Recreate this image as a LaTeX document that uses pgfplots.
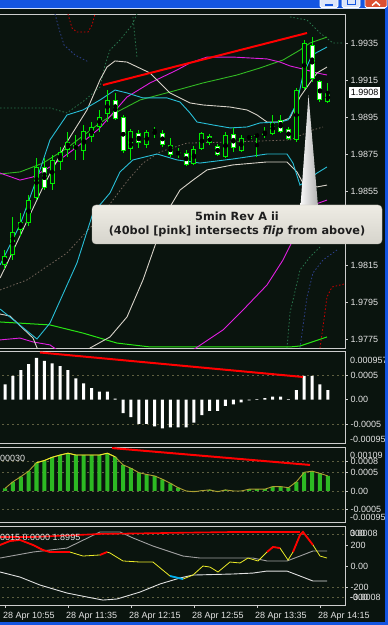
\documentclass[border=0pt]{standalone}
\usepackage{pgfplots}
\pgfplotsset{compat=1.18}
\usepackage{pgfplotstable}
\usepackage{fontspec}
\setmainfont{Liberation Sans}
\newfontfamily\callfont{DejaVu Sans}

\definecolor{bg}{RGB}{10,20,14}
\definecolor{framec}{RGB}{205,205,205}
\definecolor{labelc}{RGB}{228,228,228}
\definecolor{cgreen}{RGB}{0,235,0}
\definecolor{bbcyan}{RGB}{40,190,215}
\definecolor{bbmag}{RGB}{225,30,225}
\definecolor{bbwhite}{RGB}{215,210,200}
\definecolor{magreen}{RGB}{50,185,35}
\definecolor{limec}{RGB}{40,230,20}
\definecolor{gridc}{RGB}{95,95,65}
\definecolor{osma}{RGB}{45,185,35}
\definecolor{olivey}{RGB}{175,160,50}
\definecolor{brighty}{RGB}{235,235,40}
\definecolor{dotgreen}{RGB}{40,115,75}
\definecolor{dotblue}{RGB}{45,65,140}
\definecolor{dotgrey}{RGB}{115,100,90}
\definecolor{dotred}{RGB}{210,0,0}
\definecolor{xpblue}{RGB}{20,85,225}
\definecolor{ccigrey}{RGB}{160,160,160}
\definecolor{cciwhite}{RGB}{225,225,225}
\definecolor{callfill}{RGB}{238,236,228}
\definecolor{callfill2}{RGB}{214,212,204}
\definecolor{callline}{RGB}{190,188,180}
\definecolor{txtc}{RGB}{30,30,30}

\newcommand\lbl{\fontsize{9}{10}\selectfont}

\pgfplotsset{
  mtpanel/.style={
    scale only axis, width=346.5pt, anchor=south west,
    xmin=-0.762, xmax=43.238,
    axis background/.style={fill=bg},
    axis line style={draw=framec, line width=0.9pt},
    xtick=\empty,
    scaled y ticks=false, scaled x ticks=false,
    ytick pos=right, yticklabel pos=right,
    tick align=outside, major tick length=2.5pt,
    tick style={draw=framec, line width=0.6pt},
    yticklabel style={font=\lbl, text=labelc, anchor=west, inner sep=0pt, xshift=2.5pt},
    /pgf/number format/assume math mode=true,
    clip=true,
  },
  gridl/.style={gridc, dash pattern=on 2pt off 3pt, line width=0.6pt},
  dotl/.style={#1, dash pattern=on 1.5pt off 2pt, line width=0.8pt},
}

% ---------- candles: bar index, open, high, low, close ----------
\pgfplotstableread{
i o h l c
0 1.98150 1.98231 1.98128 1.98199
1 1.98204 1.98409 1.98177 1.98328
2 1.98339 1.98431 1.98307 1.98382
3 1.98377 1.98528 1.98361 1.98501
4 1.98512 1.98728 1.98501 1.98680
6 1.98588 1.98745 1.98555 1.98718
7 1.98707 1.98788 1.98664 1.98761
8 1.98772 1.98869 1.98734 1.98815
10 1.98766 1.98907 1.98718 1.98874
11 1.98842 1.98923 1.98815 1.98896
12 1.98896 1.98988 1.98869 1.98950
13 1.98966 1.99096 1.98923 1.99042
16 1.98777 1.98885 1.98718 1.98874
18 1.98799 1.98880 1.98782 1.98869
19 1.98869 1.98896 1.98836 1.98880
24 1.98696 1.98793 1.98691 1.98777
25 1.98777 1.98869 1.98772 1.98864
28 1.98734 1.98869 1.98728 1.98853
30 1.98766 1.98853 1.98761 1.98836
31 1.98831 1.98853 1.98826 1.98847
32 1.98847 1.98864 1.98734 1.98853
33 1.98858 1.98896 1.98836 1.98864
34 1.98858 1.98961 1.98853 1.98918
37 1.98826 1.99107 1.98815 1.99096
38 1.99107 1.99366 1.99096 1.99350
41 1.99031 1.99134 1.99026 1.99080
}\bull
\pgfplotstableread{
i o h l c
5 1.98680 1.98728 1.98555 1.98566
9 1.98799 1.98853 1.98718 1.98777
14 1.99042 1.99080 1.98934 1.98939
15 1.98950 1.98961 1.98755 1.98766
17 1.98864 1.98880 1.98782 1.98809
20 1.98864 1.98880 1.98788 1.98799
21 1.98799 1.98836 1.98734 1.98745
22 1.98761 1.98782 1.98728 1.98750
23 1.98755 1.98772 1.98685 1.98691
26 1.98847 1.98858 1.98799 1.98809
27 1.98793 1.98804 1.98739 1.98745
29 1.98858 1.98891 1.98761 1.98782
35 1.98934 1.98961 1.98864 1.98869
36 1.98885 1.98896 1.98826 1.98831
39 1.99339 1.99382 1.99139 1.99155
40 1.99145 1.99150 1.99031 1.99042
}\bear

\pgfplotstableread{
i v
0 0.00031
1 0.00048
2 0.00060
3 0.00072
4 0.00085
5 0.00079
6 0.00074
7 0.00068
8 0.00060
9 0.00043
10 0.00033
11 0.00023
12 0.00016
13 0.00016
14 0.00002
15 -0.00028
16 -0.00036
17 -0.00050
18 -0.00050
19 -0.00055
20 -0.00059
21 -0.00057
22 -0.00057
23 -0.00057
24 -0.00047
25 -0.00032
26 -0.00023
27 -0.00023
28 -0.00013
29 -0.00010
30 -0.00006
31 -0.00002
32 0.00001
33 0.00003
34 0.00006
35 0.00006
36 0.00001
37 0.00019
38 0.00048
39 0.00048
40 0.00031
41 0.00019
}\macd

\pgfplotstableread{
i v
0 0.00007
1 0.00025
2 0.00039
3 0.00054
4 0.00077
5 0.00083
6 0.00092
7 0.00098
8 0.00103
9 0.00098
10 0.00098
11 0.00098
12 0.00098
13 0.00103
14 0.00093
15 0.00071
16 0.00062
17 0.00050
18 0.00045
19 0.00041
20 0.00032
21 0.00021
22 0.00009
23 0.00000
24 -0.00002
25 0.00001
26 0.00003
27 -0.00002
28 0.00003
29 0.00000
30 0.00000
31 0.00005
32 0.00005
33 0.00005
34 0.00012
35 0.00012
36 0.00009
37 0.00025
38 0.00051
39 0.00054
40 0.00048
41 0.00041
}\osma

\pgfplotstableread{
i v
-0.63 200
0.63 238
1.9 248
3.56 200
4.83 152
5.71 133
8.25 133
9.9 95
12.06 105
12.95 133
13.33 124
14.98 48
17.14 38
18.79 38
20.95 -95
22.6 -124
23.87 -86
25.14 0
26.03 -10
27.05 -57
28.57 38
29.84 29
30.86 76
32.13 48
33.27 133
34.03 181
34.92 171
35.94 57
36.57 133
37.46 295
37.84 324
39.11 200
40 95
40.89 76
}\cci

\begin{document}
\begin{tikzpicture}[x=1pt,y=1pt]
\useasboundingbox (0,0) rectangle (388,625);
\fill[bg] (0,0) rectangle (388,625);

% ================= MAIN PRICE PANEL =================
\begin{axis}[mtpanel, at={(-1pt,276.5pt)}, height=334.5pt,
  ymin=1.976986, ymax=1.995068,
  ytick={1.9775,1.9795,1.9815,1.9855,1.9875,1.9895,1.9915,1.9935},
  yticklabels={1.9775,1.9795,1.9815,1.9855,1.9875,1.9895,1.9915,1.9935}]
% dotted envelopes
\addplot[dotl=dotgrey] coordinates {(-0.63,1.98015) (2.79,1.98069) (7.87,1.98215) (12.06,1.98409) (15.62,1.98609) (17.52,1.98701) (19.68,1.98761) (23.11,1.98809) (28.95,1.98815) (36.19,1.98826) (39.11,1.9888) (40.38,1.98896)};
\addplot[dotl=dotgreen] coordinates {(-0.63,1.98999) (5.71,1.98999) (7.87,1.98972) (10.16,1.99042) (12.06,1.99112) (12.7,1.99231) (13.33,1.99312) (14.6,1.99366) (16.13,1.99447) (16.76,1.99507)};
\addplot[dotl=dotgreen] coordinates {(16.25,1.99491) (16.5,1.99380) (16.76,1.99274)};
\addplot[dotl=dotblue] coordinates {(6.35,1.99507) (6.9,1.9942) (7.5,1.99339) (8.9,1.99285) (10.5,1.9925)};
\addplot[dotl=dotred] coordinates {(8,1.99507) (8.51,1.99431) (9.14,1.99409) (10.54,1.99409) (11.05,1.99447) (11.43,1.99507)};
\addplot[dotl=dotgreen] coordinates {(36.19,1.99491) (38.35,1.99474) (40,1.99404) (41.65,1.9935) (42.92,1.9935)};
\addplot[dotl=dotgreen] coordinates {(35.81,1.97701) (36.19,1.97891) (37.46,1.98123) (38.73,1.98193) (40,1.98247)};
\addplot[dotl=dotblue] coordinates {(37.46,1.97701) (38.35,1.97977) (39.11,1.98107) (40.38,1.98177) (42.16,1.98231)};
\addplot[dotl=dotred] coordinates {(40,1.97701) (40.38,1.97815) (40.89,1.97977) (41.52,1.98031) (43.05,1.98047)};
% green MAs
\addplot[magreen, line width=0.9pt] coordinates {(-0.63,1.98642) (1.9,1.98653) (4.83,1.98701) (7.87,1.98782) (12.06,1.98918) (14.22,1.98977) (17.14,1.99042) (20.95,1.99085) (25.14,1.99134) (29.46,1.99177) (32.38,1.99215) (35.3,1.99258) (37.46,1.99312) (38.73,1.9935) (40.89,1.99382)};
\addplot[limec, line width=1pt] coordinates {(-0.63,1.97842) (5.71,1.97826) (9.9,1.97782) (14.22,1.97728) (18.41,1.97707) (36.19,1.97707) (37.46,1.97712) (40.89,1.97761)};
% magenta bands
\addplot[bbmag, line width=0.9pt] coordinates {(-0.63,1.98647) (1.9,1.98609) (3.56,1.98626) (5.71,1.9868) (9.14,1.98788) (12.06,1.98891) (15.49,1.99058) (18.41,1.99134) (21.84,1.99204) (23.49,1.99242) (25.65,1.99274) (28.95,1.99274) (33.27,1.99264) (34.92,1.99247) (36.19,1.99226) (37.84,1.99209) (39.62,1.99188) (40.89,1.99177)};
\addplot[bbmag, line width=0.9pt] coordinates {(-0.63,1.97745) (1.9,1.97755) (3.56,1.97734) (5.71,1.97718) (6.98,1.9768) (23.49,1.9768) (27.68,1.97799) (30.48,1.97918) (33.27,1.98042) (35.3,1.98177) (36.57,1.98285) (37.46,1.9842) (39.11,1.98474) (40.89,1.98501)};
% white bands
\addplot[bbwhite, line width=0.9pt] coordinates {(-0.63,1.9808) (0,1.98134) (4.83,1.98572) (7.87,1.98815) (10.41,1.98988) (12.06,1.9915) (12.95,1.9922) (13.97,1.99253) (15.49,1.99247) (18.41,1.99188) (20.95,1.9908) (23.49,1.99026) (25.14,1.99015) (28.57,1.99004) (30.73,1.98988) (32,1.98961) (33.27,1.98923) (34.92,1.98923) (36.19,1.98945) (37.46,1.99058) (38.35,1.99112) (39.62,1.99188) (40.89,1.9922)};
\addplot[bbwhite, line width=0.9pt] coordinates {(-0.63,1.97885) (0.63,1.97874) (3.56,1.97755) (4.44,1.97664) (9.52,1.97664) (10.79,1.97701) (13.33,1.97761) (15.49,1.97869) (17.52,1.98069) (19.3,1.98285) (20.95,1.98464) (22.22,1.98555) (23.87,1.98609) (25.65,1.98664) (28.95,1.98691) (33.27,1.98707) (35.81,1.98707) (37.08,1.98653) (37.84,1.98593) (39.62,1.98572) (40.89,1.98582)};
% cyan bands
\addplot[bbcyan, line width=0.9pt] coordinates {(-0.63,1.9815) (1.9,1.98366) (4.44,1.98664) (5.71,1.98826) (7.87,1.98961) (9.9,1.98988) (12.06,1.99042) (13.97,1.99096) (15.49,1.9908) (17.52,1.99053) (20.57,1.99053) (22.22,1.99031) (23.49,1.98972) (24.38,1.98923) (26.41,1.98907) (28.57,1.98891) (30.73,1.98896) (32.38,1.98918) (34.92,1.98923) (35.94,1.98934) (37.08,1.99026) (37.84,1.99177) (38.98,1.99285) (40.89,1.99328)};
\addplot[bbcyan, line width=0.9pt] coordinates {(-0.63,1.97912) (4.06,1.9775) (5.71,1.97836) (9.14,1.98161) (11.17,1.98431) (13.33,1.98539) (14.6,1.98653) (16.25,1.98718) (19.3,1.9875) (21.84,1.98718) (24.76,1.98701) (28.95,1.98723) (33.27,1.9875) (35.81,1.9875) (36.57,1.98701) (37.46,1.98582) (38.1,1.98599) (39.62,1.98647) (40.89,1.9868)};
% candles: wicks
\addplot[only marks, mark=none, error bars/.cd, y dir=both, y explicit, error mark=none,
  error bar style={draw=cgreen, line width=1pt}]
  table[x=i, y expr={(\thisrow{h}+\thisrow{l})/2}, y error expr={(\thisrow{h}-\thisrow{l})/2}] {\bull};
\addplot[only marks, mark=none, error bars/.cd, y dir=both, y explicit, error mark=none,
  error bar style={draw=cgreen, line width=1pt}]
  table[x=i, y expr={(\thisrow{h}+\thisrow{l})/2}, y error expr={(\thisrow{h}-\thisrow{l})/2}] {\bear};
% candle bodies (outline)
\addplot[only marks, mark=none, error bars/.cd, y dir=both, y explicit, error mark=none,
  error bar style={draw=cgreen, line width=5pt}]
  table[x=i, y expr={(\thisrow{o}+\thisrow{c})/2}, y error expr={max(abs(\thisrow{o}-\thisrow{c})/2,0.00003)}] {\bull};
\addplot[only marks, mark=none, error bars/.cd, y dir=both, y explicit, error mark=none,
  error bar style={draw=cgreen, line width=5pt}]
  table[x=i, y expr={(\thisrow{o}+\thisrow{c})/2}, y error expr={max(abs(\thisrow{o}-\thisrow{c})/2,0.00003)}] {\bear};
% candle bodies (fill)
\addplot[only marks, mark=none, error bars/.cd, y dir=both, y explicit, error mark=none,
  error bar style={draw=bg, line width=3pt}]
  table[x=i, y expr={(\thisrow{o}+\thisrow{c})/2}, y error expr={max(abs(\thisrow{o}-\thisrow{c})/2-0.000054,0)}] {\bull};
\addplot[only marks, mark=none, error bars/.cd, y dir=both, y explicit, error mark=none,
  error bar style={draw=white, line width=3pt}]
  table[x=i, y expr={(\thisrow{o}+\thisrow{c})/2}, y error expr={max(abs(\thisrow{o}-\thisrow{c})/2-0.000054,0)}] {\bear};
% trend line
\addplot[red, line width=2pt] coordinates {(12.44,1.99123) (38.35,1.99404)};
\end{axis}

% ================= MACD PANEL =================
\begin{axis}[mtpanel, at={(-1pt,182pt)}, height=91.5pt,
  ymin=-0.000888, ymax=0.00098,
  ytick={-0.0005,0,0.0005}, yticklabels={-0.0005,0.00,0.0005}]
\addplot[gridl] coordinates {(-1,0.0005) (44,0.0005)};
\addplot[gridl] coordinates {(-1,-0.0005) (44,-0.0005)};
\addplot[ybar, bar width=3pt, fill=white, draw=none] table[x=i, y=v] {\macd};
\addplot[red, line width=2pt] coordinates {(4.44,0.00096) (37.84,0.00046)};
\end{axis}

% ================= OsMA PANEL =================
\begin{axis}[mtpanel, at={(-1pt,102.3pt)}, height=75.7pt,
  ymin=-0.000864, ymax=0.001199,
  ytick={-0.0005,0,0.0005,0.0008}, yticklabels={-0.0005,0.00,0.0005,0.0008}]
\addplot[gridl] coordinates {(-1,0.0008) (44,0.0008)};
\addplot[gridl] coordinates {(-1,0.0005) (44,0.0005)};
\addplot[gridl] coordinates {(-1,0) (44,0)};
\addplot[gridl] coordinates {(-1,-0.0005) (44,-0.0005)};
\addplot[ybar, bar width=4pt, fill=osma, draw=none] table[x=i, y=v] {\osma};
\addplot[olivey, line width=0.9pt] table[x=i, y=v] {\osma};
\addplot[brighty, line width=0.9pt, restrict x to domain=3.5:14.5] table[x=i, y=v] {\osma};
\addplot[red, line width=2pt] coordinates {(13.59,0.00117) (38.73,0.00071)};
\end{axis}

% ================= CCI PANEL =================
\begin{axis}[mtpanel, at={(-1pt,20pt)}, height=78.5pt,
  ymin=-371, ymax=376,
  ytick={-200,0,200}, yticklabels={-200,0.00,200},
  xtick={0,8,16,24,32,40},
  xticklabels={28 Apr 10:55,28 Apr 11:35,28 Apr 12:15,28 Apr 12:55,28 Apr 13:35,28 Apr 14:15},
  xtick pos=lower, xticklabel pos=lower,
  xticklabel style={font=\lbl, text=labelc, anchor=north west, inner sep=0pt, xshift=-2pt, yshift=-4.5pt}]
\addplot[gridl] coordinates {(-1,300) (44,300)};
\addplot[gridl] coordinates {(-1,-200) (44,-200)};
\addplot[gridl] coordinates {(-1,-300) (44,-300)};
\addplot[ccigrey, line width=0.9pt] coordinates {(-0.63,76) (3.56,133) (7.87,171) (12.06,324) (14.6,324) (16.25,267) (18.79,190) (22.6,95) (24.76,76) (31.49,76) (33.27,48) (35.81,48) (37.46,95) (39.11,143) (40.89,143)};
\addplot[cciwhite, line width=0.9pt] coordinates {(-0.63,-57) (1.9,-105) (4.44,-181) (7.87,-257) (10.41,-295) (12.44,-324) (14.22,-314) (17.14,-248) (19.68,-171) (22.22,-114) (23.87,-86) (28.95,-76) (31.49,-67) (33.27,-48) (35.81,-48) (37.46,-95) (39.11,-143) (40.89,-143)};
\addplot[red, line width=1.6pt] coordinates {(-0.76,276) (3.56,276) (12.06,305) (28.95,324) (37.46,324)};
\addplot[brighty, line width=0.8pt] table[x=i, y=v] {\cci};
\addplot[red, line width=1.8pt, restrict x to domain=-1:8.3] table[x=i, y=v] {\cci};
\addplot[red, line width=1.8pt, restrict x to domain=12:13] table[x=i, y=v] {\cci};
\addplot[red, line width=1.8pt, restrict x to domain=33.2:35.3] table[x=i, y=v] {\cci};
\addplot[red, line width=1.8pt, restrict x to domain=36.5:39.2] table[x=i, y=v] {\cci};
\addplot[cyan, line width=1.8pt, restrict x to domain=20.9:22.7] table[x=i, y=v] {\cci};
\end{axis}

% edge labels of the indicator panels
\begin{scope}[every node/.style={font=\lbl, text=labelc, anchor=west, inner sep=0pt}]
\node at (350,265) {0.000957};
\node at (350,185.5) {-0.00095};
\node at (350,170) {0.00109};
\node at (350,108) {-0.00095};
\node at (350,91.5) {0.0008};
\node at (350,91.5) {300};
\node at (350,28) {-0.0008};
\node at (350,28) {-300};
\node at (-7.5,167) {0.00030};
\node at (-7.5,88) {0.0015 0.0000 1.8995};
\end{scope}

% current price box
\node[fill=white, text=black, font=\lbl, inner sep=0pt, minimum width=31pt, minimum height=11pt, anchor=west] at (349,532.5) {1.9908};

% callout
\shade[left color=white!94!gray, right color=gray!60] (300.5,419) -- (308.5,530) -- (318,419) -- cycle;
\shade[top color=callfill, bottom color=callfill2, draw=callline, rounded corners=4pt] (92,381) rectangle (382,420);
\node[font=\callfont\bfseries\fontsize{11.3}{14.4}\selectfont, text=txtc, align=center] at (237,400.5)
  {5min Rev A ii\\(40bol [pink] intersects \textit{flip} from above)};

% window chrome
\fill[xpblue] (0,617) rectangle (388,625);
\fill[white!80!xpblue] (0,615.5) rectangle (388,617);
\fill[xpblue] (384.5,0) rectangle (388,625);
\fill[xpblue] (0,0) rectangle (388,3.3);
\filldraw[fill=white!85!xpblue, draw=white, line width=0.8pt, rounded corners=1.5pt] (320,617.5) rectangle (338,627);
\filldraw[fill=white!85!xpblue, draw=white, line width=0.8pt, rounded corners=1.5pt] (342,617.5) rectangle (360,627);
\filldraw[fill={rgb,255:red,220;green,80;blue,50}, draw=white, line width=0.8pt, rounded corners=1.5pt] (365,617.5) rectangle (387,627);
\draw[white, line width=1.5pt] (372,619.5) -- (376,623) -- (380,619.5);
\draw[xpblue, line width=1.2pt] (325,620) -- (333,620);
\draw[xpblue, line width=1pt] (347,620) rectangle (355,626);
\end{tikzpicture}
\end{document}
